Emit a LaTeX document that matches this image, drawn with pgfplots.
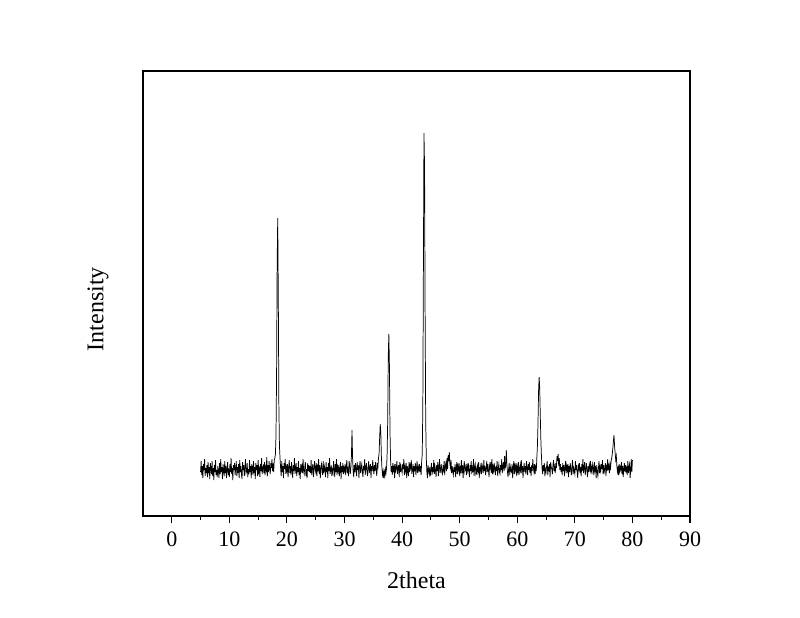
\documentclass[border=0pt]{standalone}
\usepackage{fontspec}
\setmainfont{Liberation Serif}
\usepackage{pgfplots}
\pgfplotsset{compat=1.18}
\begin{document}
\begin{tikzpicture}
\begin{axis}[
  width=410.25pt, height=333.75pt, scale only axis,
  xmin=-5, xmax=90, ymin=0, ymax=445,
  xtick={0,10,...,90}, minor x tick num=1,
  ytick=\empty,
  xtick pos=bottom, xtick align=outside,
  major tick length=5pt, minor tick length=3pt,
  axis line style={line width=1pt},
  every tick/.style={black, line width=0.8pt},
  tick label style={font=\fontsize{16.5}{19}\selectfont},
  xticklabel style={yshift=-3pt},
  /pgf/number format/assume math mode=true,
  xlabel={2theta}, ylabel={Intensity},
  label style={font=\fontsize{18}{21}\selectfont},
  xlabel style={at={(axis description cs:0.5,-0.144)}, anchor=center},
  ylabel style={at={(axis description cs:-0.082,0.465)}, anchor=center},
  clip=false,
]
% XRD pattern, intensity in arbitrary units
\addplot[black, line width=0.55pt] coordinates {
(5.0,44)(5.1,55)(5.2,41)(5.3,50)(5.4,38)(5.5,52)(5.6,46)(5.7,57)(5.8,40)(5.9,48)
(6.0,43)(6.1,51)(6.2,39)(6.3,54)(6.4,45)(6.5,49)(6.6,37)(6.7,53)(6.8,47)(6.9,42)
(7.0,55)(7.1,40)(7.2,48)(7.3,36)(7.4,51)(7.5,44)(7.6,56)(7.7,41)(7.8,46)(7.9,39)
(8.0,50)(8.1,45)(8.2,38)(8.3,53)(8.4,42)(8.5,57)(8.6,44)(8.7,49)(8.8,37)(8.9,52)
(9.0,46)(9.1,40)(9.2,55)(9.3,43)(9.4,50)(9.5,38)(9.6,47)(9.7,54)(9.8,41)(9.9,45)
(10.0,39)(10.1,52)(10.2,44)(10.3,58)(10.4,42)(10.5,48)(10.6,36)(10.7,51)(10.8,46)(10.9,53)
(11.0,41)(11.1,47)(11.2,55)(11.3,40)(11.4,49)(11.5,43)(11.6,52)(11.7,38)(11.8,56)(11.9,44)
(12.0,50)(12.1,42)(12.2,37)(12.3,54)(12.4,46)(12.5,51)(12.6,40)(12.7,48)(12.8,57)(12.9,43)
(13.0,45)(13.1,53)(13.2,39)(13.3,47)(13.4,42)(13.5,56)(13.6,44)(13.7,50)(13.8,38)(13.9,52)
(14.0,48)(14.1,41)(14.2,55)(14.3,43)(14.4,49)(14.5,37)(14.6,53)(14.7,46)(14.8,51)(14.9,40)
(15.0,56)(15.1,44)(15.2,47)(15.3,39)(15.4,52)(15.5,45)(15.6,58)(15.7,42)(15.8,48)(15.9,50)
(16.0,43)(16.1,54)(16.2,41)(16.3,49)(16.4,46)(16.5,59)(16.6,40)(16.7,51)(16.8,44)(16.9,55)
(17.0,47)(17.1,42)(17.2,53)(17.3,48)(17.4,57)(17.5,45)(17.6,50)(17.7,44)(17.8,56)(17.9,58)
(18.0,62)(18.1,80)(18.2,140)(18.3,250)(18.4,298)(18.5,220)(18.6,110)(18.7,70)(18.8,58)(18.9,48)
(19.0,40)(19.1,55)(19.2,44)(19.3,50)(19.4,38)(19.5,53)(19.6,47)(19.7,57)(19.8,42)(19.9,49)
(20.0,45)(20.1,52)(20.2,39)(20.3,48)(20.4,56)(20.5,43)(20.6,50)(20.7,41)(20.8,54)(20.9,46)
(21.0,38)(21.1,51)(21.2,45)(21.3,58)(21.4,42)(21.5,47)(21.6,53)(21.7,40)(21.8,49)(21.9,44)
(22.0,55)(22.1,41)(22.2,48)(22.3,37)(22.4,52)(22.5,46)(22.6,50)(22.7,43)(22.8,57)(22.9,45)
(23.0,42)(23.1,49)(23.2,54)(23.3,40)(23.4,47)(23.5,38)(23.6,53)(23.7,45)(23.8,51)(23.9,44)
(24.0,50)(24.1,43)(24.2,56)(24.3,41)(24.4,48)(24.5,52)(24.6,39)(24.7,46)(24.8,55)(24.9,47)
(25.0,44)(25.1,53)(25.2,40)(25.3,49)(25.4,45)(25.5,57)(25.6,42)(25.7,51)(25.8,38)(25.9,48)
(26.0,52)(26.1,46)(26.2,41)(26.3,55)(26.4,43)(26.5,50)(26.6,47)(26.7,39)(26.8,54)(26.9,44)
(27.0,49)(27.1,38)(27.2,53)(27.3,45)(27.4,58)(27.5,42)(27.6,47)(27.7,51)(27.8,40)(27.9,46)
(28.0,43)(28.1,55)(28.2,48)(28.3,39)(28.4,52)(28.5,44)(28.6,57)(28.7,41)(28.8,49)(28.9,45)
(29.0,51)(29.1,40)(29.2,46)(29.3,54)(29.4,37)(29.5,50)(29.6,44)(29.7,53)(29.8,42)(29.9,48)
(30.0,45)(30.1,52)(30.2,41)(30.3,49)(30.4,56)(30.5,43)(30.6,47)(30.7,40)(30.8,55)(30.9,50)
(31.0,42)(31.1,48)(31.2,60)(31.3,86)(31.4,58)(31.5,45)(31.6,39)(31.7,51)(31.8,44)(31.9,53)
(32.0,47)(32.1,40)(32.2,54)(32.3,46)(32.4,51)(32.5,38)(32.6,49)(32.7,55)(32.8,43)(32.9,48)
(33.0,52)(33.1,44)(33.2,39)(33.3,50)(33.4,46)(33.5,57)(33.6,41)(33.7,48)(33.8,53)(33.9,45)
(34.0,40)(34.1,49)(34.2,55)(34.3,43)(34.4,47)(34.5,52)(34.6,38)(34.7,50)(34.8,45)(34.9,56)
(35.0,48)(35.1,42)(35.2,51)(35.3,45)(35.4,54)(35.5,47)(35.6,40)(35.7,53)(35.8,49)(35.9,58)
(36.0,62)(36.1,78)(36.2,92)(36.3,84)(36.4,60)(36.5,48)(36.6,41)(36.7,45)(36.8,38)(36.9,44)
(37.0,40)(37.1,47)(37.2,43)(37.3,48)(37.4,62)(37.5,95)(37.6,160)(37.7,182)(37.8,150)(37.9,85)
(38.0,56)(38.1,44)(38.2,50)(38.3,41)(38.4,53)(38.5,46)(38.6,49)(38.7,38)(38.8,52)(38.9,45)
(39.0,48)(39.1,55)(39.2,42)(39.3,47)(39.4,51)(39.5,39)(39.6,54)(39.7,44)(39.8,50)(39.9,46)
(40.0,43)(40.1,52)(40.2,47)(40.3,57)(40.4,41)(40.5,49)(40.6,45)(40.7,53)(40.8,38)(40.9,50)
(41.0,46)(41.1,40)(41.2,54)(41.3,44)(41.4,51)(41.5,48)(41.6,56)(41.7,42)(41.8,47)(41.9,52)
(42.0,39)(42.1,50)(42.2,45)(42.3,53)(42.4,41)(42.5,48)(42.6,55)(42.7,43)(42.8,49)(42.9,46)
(43.0,52)(43.1,44)(43.2,50)(43.3,41)(43.4,55)(43.5,62)(43.6,110)(43.7,250)(43.8,383)(43.9,350)
(44.0,200)(44.1,95)(44.2,58)(44.3,44)(44.4,38)(44.5,51)(44.6,46)(44.7,42)(44.8,49)(44.9,40)
(45.0,47)(45.1,53)(45.2,41)(45.3,49)(45.4,44)(45.5,56)(45.6,42)(45.7,50)(45.8,46)(45.9,39)
(46.0,51)(46.1,45)(46.2,54)(46.3,40)(46.4,48)(46.5,57)(46.6,43)(46.7,47)(46.8,52)(46.9,44)
(47.0,42)(47.1,49)(47.2,46)(47.3,55)(47.4,41)(47.5,50)(47.6,53)(47.7,45)(47.8,58)(47.9,47)
(48.0,61)(48.1,55)(48.2,64)(48.3,52)(48.4,48)(48.5,56)(48.6,43)(48.7,50)(48.8,45)(48.9,41)
(49.0,49)(49.1,44)(49.2,52)(49.3,39)(49.4,47)(49.5,54)(49.6,42)(49.7,50)(49.8,46)(49.9,53)
(50.0,40)(50.1,48)(50.2,45)(50.3,56)(50.4,43)(50.5,51)(50.6,38)(50.7,49)(50.8,55)(50.9,44)
(51.0,47)(51.1,52)(51.2,41)(51.3,50)(51.4,46)(51.5,53)(51.6,44)(51.7,39)(51.8,51)(51.9,45)
(52.0,55)(52.1,42)(52.2,48)(52.3,44)(52.4,57)(52.5,40)(52.6,49)(52.7,52)(52.8,43)(52.9,47)
(53.0,41)(53.1,50)(53.2,46)(53.3,54)(53.4,38)(53.5,49)(53.6,45)(53.7,53)(53.8,42)(53.9,51)
(54.0,48)(54.1,43)(54.2,56)(54.3,45)(54.4,50)(54.5,41)(54.6,47)(54.7,55)(54.8,44)(54.9,52)
(55.0,46)(55.1,39)(55.2,51)(55.3,48)(55.4,54)(55.5,43)(55.6,57)(55.7,42)(55.8,49)(55.9,45)
(56.0,53)(56.1,47)(56.2,41)(56.3,50)(56.4,45)(56.5,55)(56.6,40)(56.7,48)(56.8,52)(56.9,44)
(57.0,42)(57.1,51)(57.2,46)(57.3,57)(57.4,43)(57.5,49)(57.6,54)(57.7,45)(57.8,60)(57.9,48)
(58.0,50)(58.1,66)(58.2,52)(58.3,44)(58.4,39)(58.5,47)(58.6,53)(58.7,41)(58.8,49)(58.9,45)
(59.0,44)(59.1,52)(59.2,38)(59.3,48)(59.4,55)(59.5,42)(59.6,50)(59.7,46)(59.8,53)(59.9,40)
(60.0,49)(60.1,45)(60.2,54)(60.3,41)(60.4,47)(60.5,51)(60.6,43)(60.7,56)(60.8,46)(60.9,50)
(61.0,38)(61.1,48)(61.2,53)(61.3,44)(61.4,50)(61.5,42)(61.6,55)(61.7,47)(61.8,41)(61.9,52)
(62.0,46)(62.1,54)(62.2,43)(62.3,49)(62.4,40)(62.5,51)(62.6,45)(62.7,57)(62.8,48)(62.9,44)
(63.0,52)(63.1,42)(63.2,49)(63.3,45)(63.4,58)(63.5,70)(63.6,92)(63.7,125)(63.8,139)(63.9,128)
(64.0,100)(64.1,76)(64.2,60)(64.3,48)(64.4,42)(64.5,51)(64.6,45)(64.7,53)(64.8,40)(64.9,47)
(65.0,44)(65.1,50)(65.2,55)(65.3,41)(65.4,48)(65.5,46)(65.6,52)(65.7,39)(65.8,54)(65.9,49)
(66.0,47)(66.1,42)(66.2,51)(66.3,56)(66.4,45)(66.5,49)(66.6,43)(66.7,53)(66.8,48)(66.9,60)
(67.0,55)(67.1,62)(67.2,50)(67.3,58)(67.4,46)(67.5,52)(67.6,44)(67.7,49)(67.8,41)(67.9,53)
(68.0,45)(68.1,51)(68.2,40)(68.3,48)(68.4,55)(68.5,43)(68.6,50)(68.7,46)(68.8,52)(68.9,39)
(69.0,50)(69.1,44)(69.2,53)(69.3,47)(69.4,41)(69.5,49)(69.6,56)(69.7,42)(69.8,48)(69.9,45)
(70.0,42)(70.1,55)(70.2,46)(70.3,51)(70.4,44)(70.5,38)(70.6,50)(70.7,47)(70.8,53)(70.9,43)
(71.0,49)(71.1,40)(71.2,52)(71.3,45)(71.4,57)(71.5,43)(71.6,48)(71.7,54)(71.8,41)(71.9,46)
(72.0,53)(72.1,46)(72.2,39)(72.3,50)(72.4,44)(72.5,51)(72.6,47)(72.7,55)(72.8,42)(72.9,49)
(73.0,45)(73.1,52)(73.2,48)(73.3,41)(73.4,54)(73.5,46)(73.6,50)(73.7,38)(73.8,51)(73.9,44)
(74.0,40)(74.1,48)(74.2,55)(74.3,43)(74.4,49)(74.5,45)(74.6,52)(74.7,47)(74.8,56)(74.9,42)
(75.0,51)(75.1,44)(75.2,47)(75.3,53)(75.4,40)(75.5,49)(75.6,45)(75.7,57)(75.8,46)(75.9,50)
(76.0,43)(76.1,52)(76.2,48)(76.3,55)(76.4,58)(76.5,62)(76.6,68)(76.7,75)(76.8,81)(76.9,70)
(77.0,63)(77.1,56)(77.2,60)(77.3,50)(77.4,44)(77.5,48)(77.6,41)(77.7,52)(77.8,45)(77.9,49)
(78.0,46)(78.1,54)(78.2,42)(78.3,50)(78.4,39)(78.5,47)(78.6,53)(78.7,44)(78.8,51)(78.9,45)
(79.0,48)(79.1,41)(79.2,55)(79.3,43)(79.4,49)(79.5,52)(79.6,38)(79.7,46)(79.8,57)(79.9,44)
(80.0,56)
};
% white space round the axis, as in the reference
\path (rel axis cs:-0.2614,-0.2270) rectangle (rel axis cs:1.2011,1.1596);
\end{axis}
\end{tikzpicture}
\end{document}
